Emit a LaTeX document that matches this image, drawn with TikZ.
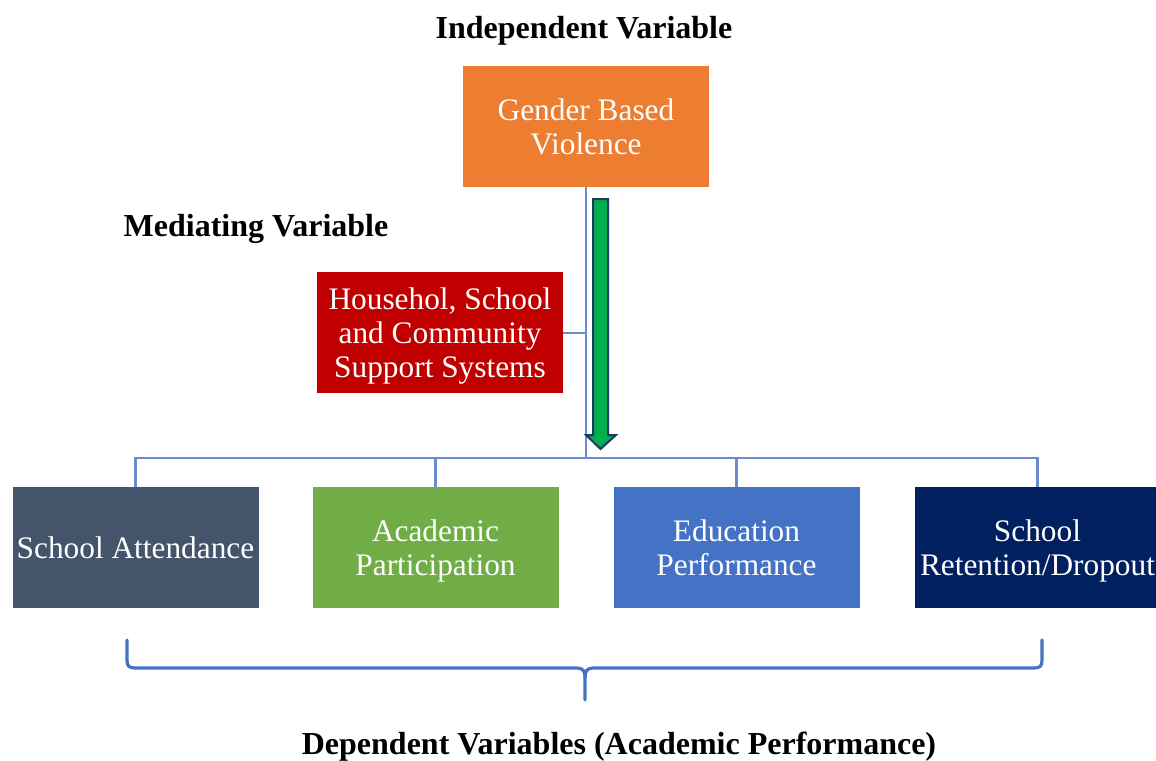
\documentclass[tikz,border=0pt]{standalone}
\usepackage{fontspec}
\setmainfont{Liberation Serif}
\definecolor{cOrange}{HTML}{ED7D31}
\definecolor{cRed}{HTML}{C00000}
\definecolor{cSlate}{HTML}{44546A}
\definecolor{cGreen}{HTML}{70AD47}
\definecolor{cBlue}{HTML}{4472C4}
\definecolor{cNavy}{HTML}{002060}
\definecolor{cLine}{HTML}{6A8CCF}
\definecolor{cArrow}{HTML}{00B050}
\definecolor{cArrowEdge}{HTML}{1F3864}
\begin{document}
\begin{tikzpicture}[x=0.75pt,y=-0.75pt,
  box/.style={inner sep=0pt,minimum width=184.5pt,minimum height=90.75pt,text=white,align=center,
    text depth=0pt,font=\fontsize{23.5}{25.5}\selectfont},
  title/.style={font=\fontsize{24}{26}\selectfont\bfseries,inner sep=0pt},
  conn/.style={draw=cLine,line width=1.6pt}]
\useasboundingbox (0,0) rectangle (1156,760);
\node[title] (tiv) at (584,31) {Independent Variable};
\node[title] (tmv) at (256,229) {Mediating Variable};
\node[title] (tdv) at (619,747) {Dependent Variables (Academic Performance)};

\node[box,fill=cOrange] (gbv) at (586,126.5) {Gender Based\\Violence};
\node[box,fill=cRed] (med) at (440,332.5) {Househol, School\\and Community\\Support Systems};

\node[box,fill=cSlate] (d1) at (135.5,547.5) {School Attendance};
\node[box,fill=cGreen] (d2) at (435.5,547.5) {Academic\\Participation};
\node[box,fill=cBlue] (d3) at (736.5,547.5) {Education\\Performance};
\node[box,fill=cNavy] (d4) at (1037.5,547.5) {School\\Retention/Dropout};

\coordinate (hub) at (586,458);
\coordinate (medj) at (586,333);
\draw[conn] (gbv.south) -- (hub);
\draw[conn] (med.east |- medj) -- (medj);
\draw[conn] (d1.north) -- (d1.north |- hub) -- (d4.north |- hub) -- (d4.north);
\draw[conn] (d2.north) -- (d2.north |- hub);
\draw[conn] (d3.north) -- (d3.north |- hub);

% green arrow
\draw[fill=cArrow,draw=cArrowEdge,line width=1.5pt,line join=miter]
  (593,199) -- (608,199) -- (608,435) -- (616,435) -- (600.5,449) -- (586,435) -- (593,435) -- cycle;

% brace
\draw[draw=cBlue,line width=2.4pt,line cap=round]
  (127,640) -- (127,660) .. controls (127,666) and (129,668) .. (135,668)
  -- (577,668) .. controls (583,668) and (585,671) .. (585,678) -- (585,700);
\draw[draw=cBlue,line width=2.4pt,line cap=round]
  (1042,640) -- (1042,660) .. controls (1042,666) and (1040,668) .. (1034,668)
  -- (593,668) .. controls (587,668) and (585,671) .. (585,678);
\end{tikzpicture}
\end{document}
